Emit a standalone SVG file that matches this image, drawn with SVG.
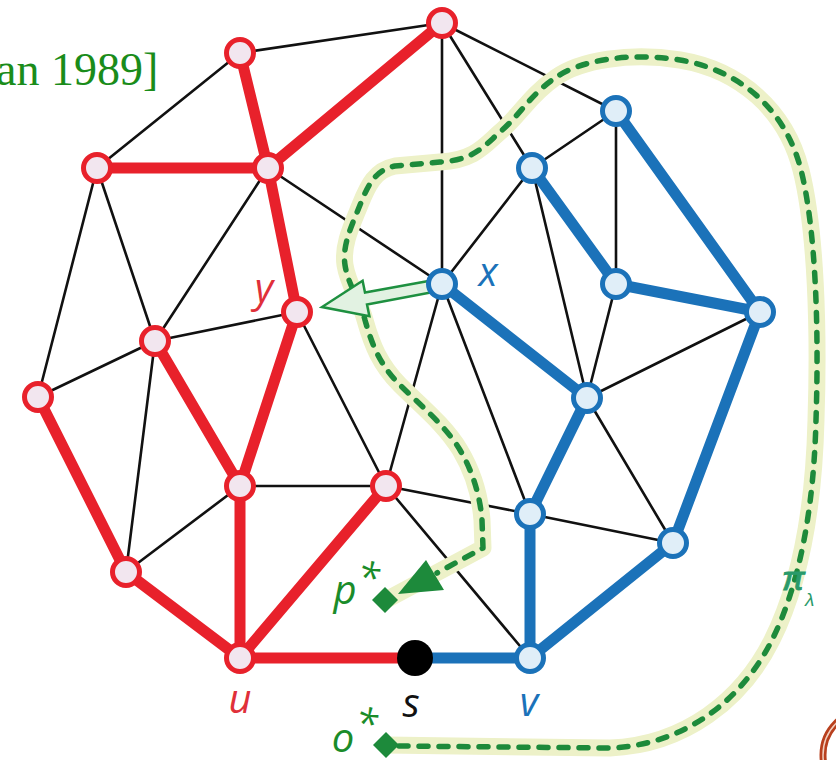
<svg xmlns="http://www.w3.org/2000/svg" width="836" height="760" viewBox="0 0 836 760">
<defs>
<style>
.thin{stroke:#111;stroke-width:2.6;fill:none;stroke-linecap:round}
.tr{stroke:#e8212b;stroke-width:11;fill:none;stroke-linecap:round}
.tb{stroke:#1b72b9;stroke-width:11;fill:none;stroke-linecap:round}
.nr circle{fill:#f2e6ef;stroke:#e8212b;stroke-width:5}
.nb circle{fill:#e0eef8;stroke:#1b72b9;stroke-width:5}
.lab{font-family:"Open Sans","Liberation Sans",sans-serif;font-style:italic;font-size:40px;text-anchor:middle}
.band{fill:none;stroke:#edf1c8;stroke-width:17;stroke-linejoin:round;stroke-linecap:round}
.dash{fill:none;stroke:#1d8a3b;stroke-width:5.5;stroke-dasharray:9 11;stroke-linecap:round;stroke-linejoin:round}
</style>
</defs>
<rect width="836" height="760" fill="#ffffff"/>
<text x="-4" y="85" font-family="Liberation Serif,serif" font-size="46" fill="#1a8c1a">an 1989]</text>
<g id="connectors">
<g id="thin-edges">
<line class="thin" x1="240" y1="53" x2="442" y2="23"/>
<line class="thin" x1="240" y1="53" x2="97" y2="168"/>
<line class="thin" x1="442" y1="23" x2="616" y2="111"/>
<line class="thin" x1="442" y1="23" x2="532" y2="168"/>
<line class="thin" x1="442" y1="23" x2="442" y2="284"/>
<line class="thin" x1="268" y1="168" x2="442" y2="284"/>
<line class="thin" x1="97" y1="168" x2="38" y2="397"/>
<line class="thin" x1="97" y1="168" x2="155" y2="341"/>
<line class="thin" x1="268" y1="168" x2="155" y2="341"/>
<line class="thin" x1="155" y1="341" x2="297" y2="312"/>
<line class="thin" x1="155" y1="341" x2="38" y2="397"/>
<line class="thin" x1="155" y1="341" x2="126" y2="572"/>
<line class="thin" x1="240" y1="486" x2="126" y2="572"/>
<line class="thin" x1="297" y1="312" x2="386" y2="486"/>
<line class="thin" x1="240" y1="486" x2="386" y2="486"/>
<line class="thin" x1="442" y1="284" x2="386" y2="486"/>
<line class="thin" x1="442" y1="284" x2="530" y2="514"/>
<line class="thin" x1="386" y1="486" x2="530" y2="514"/>
<line class="thin" x1="386" y1="486" x2="530" y2="658"/>
<line class="thin" x1="532" y1="168" x2="616" y2="111"/>
<line class="thin" x1="532" y1="168" x2="587" y2="398"/>
<line class="thin" x1="532" y1="168" x2="442" y2="284"/>
<line class="thin" x1="616" y1="111" x2="616" y2="284"/>
<line class="thin" x1="616" y1="284" x2="587" y2="398"/>
<line class="thin" x1="587" y1="398" x2="760" y2="312"/>
<line class="thin" x1="587" y1="398" x2="673" y2="543"/>
<line class="thin" x1="530" y1="514" x2="673" y2="543"/>
</g>
<g id="path-pi">
<path class="band" d="M386,745 L610,748 C685,745 742,700 772,640 C802,580 814,500 816,420 C819,330 816,230 801,170 C786,110 740,70 680,60 C630,52 580,60 555,78 C530,95 520,115 500,132 C485,145 475,160 440,162 L395,166 C375,170 368,185 360,205 C352,225 342,245 345,265 C348,285 360,300 365,320 C372,345 380,365 400,385 C420,405 445,425 460,450 C472,470 480,495 482,520 L483,548 L386,600"/>
<path class="dash" d="M399,746 L610,748 C685,745 742,700 772,640 C802,580 814,500 816,420 C819,330 816,230 801,170 C786,110 740,70 680,60 C630,52 580,60 555,78 C530,95 520,115 500,132 C485,145 475,160 440,162 L395,166 C375,170 368,185 360,205 C352,225 342,245 345,265 C348,285 360,300 365,320 C372,345 380,365 400,385 C420,405 445,425 460,450 C472,470 480,495 482,520 L483,548 L437,573"/>
<polygon points="398,594 426,560 444,590" fill="#1d8a3b"/>
</g>
<g id="thick-edges">
<line class="tr" x1="442" y1="23" x2="268" y2="168"/>
<line class="tr" x1="240" y1="53" x2="268" y2="168"/>
<line class="tr" x1="97" y1="168" x2="268" y2="168"/>
<line class="tr" x1="268" y1="168" x2="297" y2="312"/>
<line class="tr" x1="297" y1="312" x2="240" y2="486"/>
<line class="tr" x1="155" y1="341" x2="240" y2="486"/>
<line class="tr" x1="240" y1="486" x2="240" y2="658"/>
<line class="tr" x1="386" y1="486" x2="240" y2="658"/>
<line class="tr" x1="38" y1="397" x2="126" y2="572"/>
<line class="tr" x1="126" y1="572" x2="240" y2="658"/>
<line class="tr" x1="240" y1="658" x2="415" y2="658"/>
<line class="tb" x1="415" y1="658" x2="530" y2="658"/>
<line class="tb" x1="530" y1="658" x2="530" y2="514"/>
<line class="tb" x1="530" y1="658" x2="673" y2="543"/>
<line class="tb" x1="530" y1="514" x2="587" y2="398"/>
<line class="tb" x1="587" y1="398" x2="442" y2="284"/>
<line class="tb" x1="673" y1="543" x2="760" y2="312"/>
<line class="tb" x1="760" y1="312" x2="616" y2="284"/>
<line class="tb" x1="760" y1="312" x2="616" y2="111"/>
<line class="tb" x1="616" y1="284" x2="532" y2="168"/>
</g>
<polygon id="arrow-xy" points="434,280 365,292.6 362.6,280.8 322,307 369.4,316.2 367,304.4 436,291.4" fill="#e2f2e2" stroke="#1e9040" stroke-width="2.5" stroke-linejoin="miter"/>
</g>
<g id="node-r1" class="nr"><circle cx="240" cy="53" r="13.5"/></g>
<g id="node-r2" class="nr"><circle cx="442" cy="23" r="13.5"/></g>
<g id="node-r3" class="nr"><circle cx="97" cy="168" r="13.5"/></g>
<g id="node-r4" class="nr"><circle cx="268" cy="168" r="13.5"/></g>
<g id="node-y" class="nr"><circle cx="297" cy="312" r="13.5"/></g>
<g id="node-r6" class="nr"><circle cx="155" cy="341" r="13.5"/></g>
<g id="node-r7" class="nr"><circle cx="38" cy="397" r="13.5"/></g>
<g id="node-r8" class="nr"><circle cx="240" cy="486" r="13.5"/></g>
<g id="node-r9" class="nr"><circle cx="386" cy="486" r="13.5"/></g>
<g id="node-r10" class="nr"><circle cx="126" cy="572" r="13.5"/></g>
<g id="node-u" class="nr"><circle cx="240" cy="658" r="13.5"/></g>
<g id="node-s"><circle cx="415" cy="658" r="18" fill="#000"/></g>
<g id="node-b1" class="nb"><circle cx="616" cy="111" r="13.5"/></g>
<g id="node-b2" class="nb"><circle cx="532" cy="168" r="13.5"/></g>
<g id="node-x" class="nb"><circle cx="442" cy="284" r="13.5"/></g>
<g id="node-b4" class="nb"><circle cx="616" cy="284" r="13.5"/></g>
<g id="node-b5" class="nb"><circle cx="760" cy="312" r="13.5"/></g>
<g id="node-b6" class="nb"><circle cx="587" cy="398" r="13.5"/></g>
<g id="node-b7" class="nb"><circle cx="530" cy="514" r="13.5"/></g>
<g id="node-b8" class="nb"><circle cx="673" cy="543" r="13.5"/></g>
<g id="node-v" class="nb"><circle cx="530" cy="658" r="13.5"/></g>
<g id="node-pstar"><polygon points="372,600 385,587 398,600 385,613" fill="#1d8a3b"/></g>
<g id="node-ostar"><polygon points="373,745 386,732 399,745 386,758" fill="#1d8a3b"/></g>
<g id="labels">
<text class="lab" x="264" y="302" fill="#e0303a">y</text>
<text class="lab" x="488" y="286" fill="#1b72b9">x</text>
<text class="lab" x="240" y="713" fill="#e0303a">u</text>
<text class="lab" x="411" y="717" fill="#111">s</text>
<text class="lab" x="529" y="716" fill="#1b72b9">v</text>
<text class="lab" x="345" y="604" fill="#1a8c2a">p</text>
<text class="lab" x="369" y="592" font-size="22" fill="#1a8c2a">*</text>
<text class="lab" x="343" y="752" fill="#1a8c2a">o</text>
<text class="lab" x="367" y="738" font-size="22" fill="#1a8c2a">*</text>
<text x="782" y="590" font-family="'Liberation Sans',sans-serif" font-style="italic" font-size="34" fill="#2a9a6a" stroke="#2a9a6a" stroke-width="1">π</text>
<text x="805" y="606" font-family="'Liberation Sans',sans-serif" font-style="italic" font-size="19" fill="#2a9a6a">λ</text>
</g>
<circle cx="868" cy="755" r="45" fill="none" stroke="#b8401e" stroke-width="7"/>
<circle cx="868" cy="755" r="45" fill="none" stroke="#f2d0c0" stroke-width="1.5"/>
</svg>
